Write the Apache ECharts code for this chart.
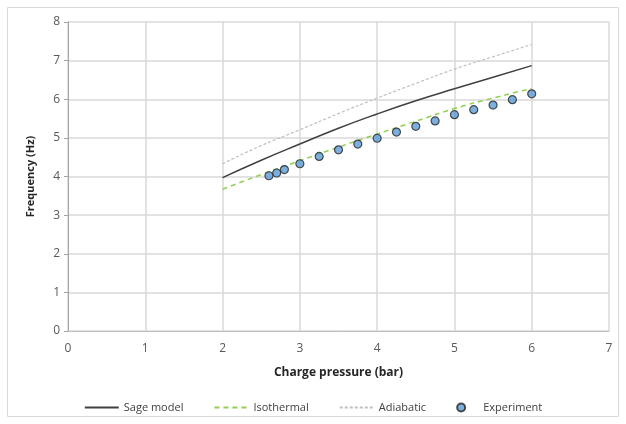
<!DOCTYPE html>
<html>
<head>
<meta charset="utf-8">
<script src="https://cdn.jsdelivr.net/npm/echarts@6/dist/echarts.min.js"></script>
<style>
  html, body { margin: 0; padding: 0; background: #fff; }
  #chart { width: 626px; height: 424px; }
</style>
</head>
<body>
<div id="chart"></div>
<script>
// model curves (charge pressure in bar)
const modelX = [2, 2.5, 3, 3.5, 4, 4.5, 5, 5.5, 6]
const sageModel = [3.97, 4.42, 4.84, 5.25, 5.62, 5.96, 6.27, 6.57, 6.87]
const isothermal = [3.67, 4.05, 4.41, 4.76, 5.10, 5.43, 5.76, 6.03, 6.28]
const adiabatic = [4.33, 4.80, 5.21, 5.63, 6.03, 6.41, 6.78, 7.10, 7.42]

// measured points
const expX = [2.6, 2.7, 2.8, 3.0, 3.25, 3.5, 3.75, 4.0, 4.25, 4.5, 4.75, 5.0, 5.25, 5.5, 5.75, 6.0]
const expY = [4.02, 4.09, 4.18, 4.33, 4.52, 4.69, 4.84, 4.99, 5.15, 5.30, 5.44, 5.60, 5.73, 5.85, 5.99, 6.14]

const pair = (xs, ys) => xs.map((x, i) => [x, ys[i]])

const font = '"Open Sans", "Liberation Sans", sans-serif'
const txt = '#595959'

let myChart = echarts.init(document.getElementById('chart'))

let option = {
  animation: false,
  textStyle: { fontFamily: font },
  graphic: [{
    type: 'rect',
    shape: { x: 7.5, y: 7.5, width: 611, height: 409 },
    style: { fill: 'none', stroke: '#d9d9d9', lineWidth: 1 },
    silent: true
  }],
  grid: { left: 68, top: 22, right: 17, bottom: 93 },
  xAxis: {
    type: 'value',
    min: 0, max: 7, interval: 1,
    name: 'Charge pressure (bar)',
    nameLocation: 'middle',
    nameGap: 36,
    nameTextStyle: { color: '#262626', fontWeight: 'bold', fontSize: 12, fontFamily: font },
    axisLine: { show: true, lineStyle: { color: '#bfbfbf' } },
    axisTick: { show: false },
    axisLabel: { color: txt, fontSize: 12, margin: 12 },
    splitLine: { show: true, lineStyle: { color: '#d9d9d9', width: 1.5 } }
  },
  yAxis: {
    type: 'value',
    min: 0, max: 8, interval: 1,
    name: 'Frequency (Hz)',
    nameLocation: 'middle',
    nameGap: 32,
    nameTextStyle: { color: '#262626', fontWeight: 'bold', fontSize: 11, fontFamily: font },
    axisLine: { show: true, lineStyle: { color: '#a6a6a6' } },
    axisTick: { show: true, length: 4, lineStyle: { color: '#a6a6a6' } },
    axisLabel: { color: txt, fontSize: 12, margin: 8 },
    splitLine: { show: true, lineStyle: { color: '#d9d9d9', width: 1.5 } }
  },
  legend: {
    bottom: 6,
    left: 'center',
    itemGap: 30,
    itemWidth: 34,
    itemHeight: 8,
    textStyle: { color: '#404040', fontSize: 11, fontFamily: font },
    data: [
      { name: 'Sage model', itemStyle: { opacity: 0 } },
      { name: 'Isothermal', itemStyle: { opacity: 0 } },
      { name: 'Adiabatic', itemStyle: { opacity: 0 } },
      { name: 'Experiment' }
    ]
  },
  series: [
    {
      name: 'Sage model',
      type: 'line',
      smooth: true,
      symbol: 'none',
      data: pair(modelX, sageModel),
      lineStyle: { color: '#404040', width: 1.5 },
      itemStyle: { color: '#404040' }
    },
    {
      name: 'Isothermal',
      type: 'line',
      smooth: true,
      symbol: 'none',
      data: pair(modelX, isothermal),
      lineStyle: { color: '#92d050', width: 1.5, type: [5, 4] },
      itemStyle: { color: '#92d050' }
    },
    {
      name: 'Adiabatic',
      type: 'line',
      smooth: true,
      symbol: 'none',
      data: pair(modelX, adiabatic),
      lineStyle: { color: '#bfbfbf', width: 1.2, type: [3, 2] },
      itemStyle: { color: '#bfbfbf' }
    },
    {
      name: 'Experiment',
      type: 'scatter',
      symbol: 'circle',
      symbolSize: 8,
      data: pair(expX, expY),
      itemStyle: { color: '#5b9bd5', borderColor: '#262626', borderWidth: 1.2 },
      z: 5
    }
  ]
}
myChart.setOption(option)
window.addEventListener('resize', function () {
  myChart.resize()
})
</script>
</body>
</html>
